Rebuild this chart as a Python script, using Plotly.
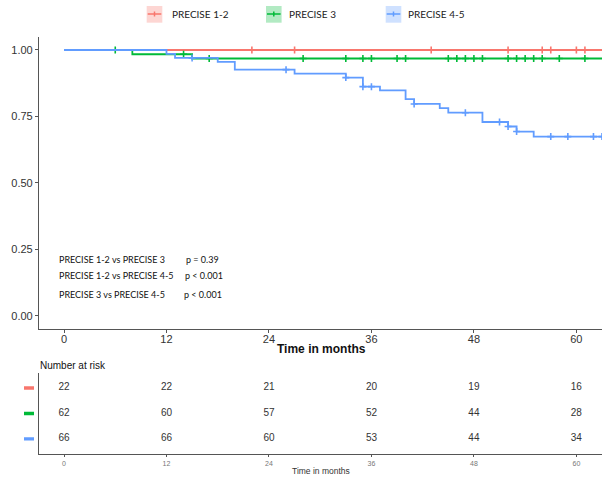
import numpy as np
import plotly.graph_objects as go

W, H = 602, 479
def PX(x): return x / W
def PY(y): return 1 - y / H

groups = ["PRECISE 1-2", "PRECISE 3", "PRECISE 4-5"]
colors = ["#F8766D", "#00BA38", "#619CFF"]
light = ["rgba(248,118,109,0.30)", "rgba(0,186,56,0.30)", "rgba(97,156,255,0.30)"]

# Kaplan-Meier step data (time in months, survival)
red_t = [0, 63]
red_s = [1.0, 1.0]
red_cens = [22, 27, 43, 52, 56, 57, 60, 61]

green_t = [0, 8, 15, 63]
green_s = [1.0, 0.984, 0.968, 0.968]
green_cens = [6, 14, 17, 28, 33, 35, 36, 39, 40, 45, 46, 47, 48, 49, 52, 53, 54, 55, 56, 58, 61]

blue_t = [0, 12, 13, 18, 20, 27, 33, 35, 37, 40, 41, 44, 45, 49, 52, 53, 55, 63]
blue_s = [1.0, 0.985, 0.970, 0.955, 0.926, 0.911, 0.896, 0.862, 0.848, 0.815, 0.797,
          0.781, 0.764, 0.729, 0.712, 0.693, 0.674, 0.674]
blue_cens = [15, 26, 33, 35, 36, 41, 47, 51, 52, 53, 57, 59, 62, 63]

risk_times = [0, 12, 24, 36, 48, 60]
risk_red = [22, 22, 21, 20, 19, 16]
risk_green = [62, 60, 57, 52, 44, 28]
risk_blue = [66, 66, 60, 53, 44, 34]

x_ticks = [0, 12, 24, 36, 48, 60]
y_ticks = [0, 0.25, 0.5, 0.75, 1.0]
y_ticklabels = ["0.00", "0.25", "0.50", "0.75", "1.00"]

pvals_labels = ["PRECISE 1-2 vs PRECISE 3", "PRECISE 1-2 vs PRECISE 4-5", "PRECISE 3 vs PRECISE 4-5"]
pvals_text = ["p = 0.39", "p < 0.001", "p < 0.001"]

series = [(red_t, red_s, red_cens), (green_t, green_s, green_cens), (blue_t, blue_s, blue_cens)]

fig = go.Figure()
for (t, s, c), col, name in zip(series, colors, groups):
    fig.add_trace(go.Scatter(x=t, y=s, mode="lines", line=dict(color=col, width=1.8, shape="hv"),
                             name=name, showlegend=False, xaxis="x", yaxis="y"))
    idx = np.searchsorted(np.array(t), np.array(c), side="right") - 1
    cs = [s[i] for i in idx]
    fig.add_trace(go.Scatter(x=c, y=cs, mode="markers",
                             marker=dict(symbol="cross-thin", size=5, line=dict(color=col, width=1.6)),
                             showlegend=False, xaxis="x", yaxis="y"))

rows = [3, 2, 1]
for vals, r in zip([risk_red, risk_green, risk_blue], rows):
    fig.add_trace(go.Scatter(x=risk_times, y=[r] * len(risk_times), mode="text",
                             text=[str(v) for v in vals],
                             textfont=dict(family="Liberation Sans", size=10, color="#333333"),
                             showlegend=False, xaxis="x2", yaxis="y2"))

xr = [-2.93, 63]
axis_line = "#555555"
fig.update_layout(
    width=W, height=H, margin=dict(l=0, r=0, t=0, b=0),
    plot_bgcolor="white", paper_bgcolor="white", showlegend=False,
    xaxis=dict(domain=[PX(39), 1], range=xr, tickvals=x_ticks, showgrid=False, zeroline=False,
               showline=True, linecolor=axis_line, linewidth=1.2, ticks="outside", ticklen=3,
               tickcolor=axis_line, tickfont=dict(family="Liberation Sans", size=11, color="#333333"),
               ticklabelstandoff=-3, anchor="y"),
    yaxis=dict(domain=[PY(329), PY(36.7)], range=[-0.05, 1.05], tickvals=y_ticks, ticktext=y_ticklabels,
               showgrid=False, zeroline=False, showline=True, linecolor=axis_line, linewidth=1.2,
               ticks="outside", ticklen=3, tickcolor=axis_line,
               tickfont=dict(family="Liberation Sans", size=11, color="#333333"), anchor="x"),
    xaxis2=dict(domain=[PX(39), 1], range=xr, tickvals=x_ticks, showgrid=False, zeroline=False,
                showline=True, linecolor=axis_line, linewidth=1.2, ticks="outside", ticklen=2,
                tickcolor=axis_line, tickfont=dict(family="Liberation Sans", size=7, color="#777777"),
                anchor="y2"),
    yaxis2=dict(domain=[PY(454), PY(372.7)], range=[0.41, 3.6], showgrid=False, zeroline=False,
                showline=True, linecolor=axis_line, linewidth=1.2, showticklabels=False, ticks="",
                anchor="x2"),
)

ann = []
ann.append(dict(text="<b>Time in months</b>", x=PX(321), y=PY(349), xref="paper", yref="paper",
                showarrow=False, font=dict(family="Liberation Sans", size=12, color="#111111"),
                xanchor="center", yanchor="middle"))
ann.append(dict(text="Number at risk", x=PX(38), y=PY(365), xref="paper", yref="paper",
                showarrow=False, font=dict(family="Liberation Sans", size=10, color="#111111"),
                xanchor="left", yanchor="middle"))
ann.append(dict(text="Time in months", x=PX(320.5), y=PY(471), xref="paper", yref="paper",
                showarrow=False, font=dict(family="Liberation Sans", size=8.5, color="#333333"),
                xanchor="center", yanchor="middle"))
for lab, py in zip(pvals_labels, [259.5, 275, 294]):
    ann.append(dict(text=lab, x=PX(57), y=PY(py), xref="paper", yref="paper", showarrow=False,
                    font=dict(family="Lato", size=9, color="#111111"), xanchor="left", yanchor="middle"))
for pv, py, px in zip(pvals_text, [259.5, 275, 294], [184, 183, 182]):
    ann.append(dict(text=pv, x=PX(px), y=PY(py), xref="paper", yref="paper", showarrow=False,
                    font=dict(family="Lato", size=9, color="#111111"), xanchor="left", yanchor="middle"))

shapes = []
# legend
leg_box_x = [146.7, 266, 385.7]
leg_text_x = [170, 286.7, 406]
for bx, tx, col, lc, name in zip(leg_box_x, leg_text_x, colors, light, groups):
    shapes.append(dict(type="rect", xref="paper", yref="paper", x0=PX(bx), x1=PX(bx + 15.6),
                       y0=PY(22.7), y1=PY(6), fillcolor=lc, line=dict(width=0)))
    shapes.append(dict(type="line", xref="paper", yref="paper", x0=PX(bx + 1), x1=PX(bx + 14.6),
                       y0=PY(14), y1=PY(14), line=dict(color=col, width=1.5)))
    shapes.append(dict(type="line", xref="paper", yref="paper", x0=PX(bx + 7.8), x1=PX(bx + 7.8),
                       y0=PY(11.5), y1=PY(16.5), line=dict(color=col, width=1.5)))
    ann.append(dict(text=name, x=PX(tx), y=PY(14.5), xref="paper", yref="paper", showarrow=False,
                    font=dict(family="Lato", size=10, color="#222222"), xanchor="left", yanchor="middle"))
# risk table colour keys
for r, col in zip(rows, colors):
    shapes.append(dict(type="rect", xref="paper", yref="y2", x0=PX(24), x1=PX(34),
                       y0=r - 0.065, y1=r + 0.065, fillcolor=col, line=dict(width=0)))

fig.update_layout(annotations=ann, shapes=shapes)
fig.write_html("out.html")
